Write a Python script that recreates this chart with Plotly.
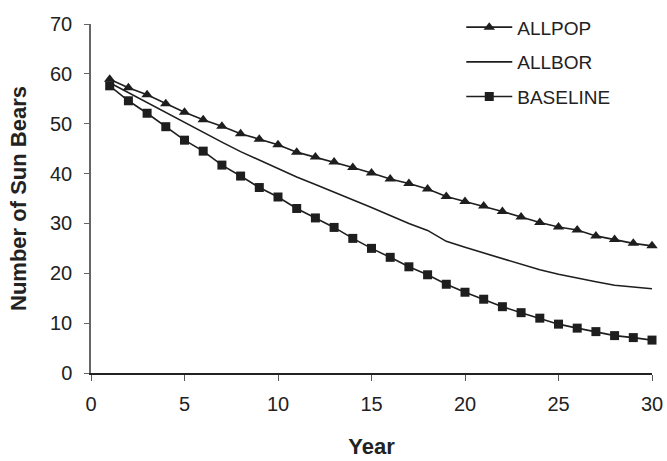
import plotly.graph_objects as go

years = list(range(1, 31))
allpop = [58.9, 57.2, 55.8, 54.0, 52.3, 50.8, 49.5, 48.0, 46.9, 45.8,
          44.3, 43.3, 42.3, 41.2, 40.1, 38.9, 38.0, 36.9, 35.4, 34.4,
          33.5, 32.4, 31.3, 30.2, 29.3, 28.7, 27.5, 26.8, 26.0, 25.5]
allbor = [58.2, 56.2, 54.2, 52.2, 50.2, 48.2, 46.3, 44.4, 42.7, 40.9,
          39.3, 37.8, 36.3, 34.8, 33.2, 31.6, 30.0, 28.6, 26.4, 25.2,
          24.1, 23.0, 21.8, 20.7, 19.8, 19.0, 18.3, 17.6, 17.2, 16.9]
baseline = [57.6, 54.6, 52.1, 49.4, 46.7, 44.5, 41.7, 39.5, 37.2, 35.3,
            33.0, 31.1, 29.2, 27.0, 25.0, 23.2, 21.3, 19.7, 17.8, 16.2,
            14.8, 13.3, 12.1, 11.0, 9.8, 9.0, 8.3, 7.5, 7.1, 6.6]

xticks = [0, 5, 10, 15, 20, 25, 30]
yticks = [0, 10, 20, 30, 40, 50, 60, 70]

ink = "#1e1e1e"
fig = go.Figure()
fig.add_trace(go.Scatter(x=years, y=allpop, name="ALLPOP", mode="lines+markers",
                         line=dict(color=ink, width=1.6),
                         marker=dict(symbol="triangle-up", size=10, color=ink),
                         legendgroup="a", cliponaxis=False))
fig.add_trace(go.Scatter(x=years, y=allbor, name="ALLBOR", mode="lines",
                         line=dict(color=ink, width=1.6), legendgroup="b",
                         cliponaxis=False))
fig.add_trace(go.Scatter(x=years, y=baseline, name="BASELINE", mode="lines+markers",
                         line=dict(color=ink, width=1.6),
                         marker=dict(symbol="square", size=9, color=ink),
                         legendgroup="c", cliponaxis=False))

fig.update_layout(
    width=667, height=461,
    margin=dict(l=91, r=15, t=24, b=88, autoexpand=False),
    paper_bgcolor="white", plot_bgcolor="white",
    font=dict(family="Liberation Sans, Arial, sans-serif", color="#222", size=20),
    showlegend=True,
    legend=dict(x=0.660, y=1.045, xanchor="left", yanchor="top",
                font=dict(size=19, color="#222"), tracegroupgap=7,
                itemwidth=46, bgcolor="rgba(0,0,0,0)"),
    xaxis=dict(range=[0, 30], tickvals=xticks, showgrid=False, zeroline=False,
               showline=True, linecolor="#222", linewidth=1.5,
               ticks="outside", ticklen=6, tickcolor="#555", tickwidth=1,
               ticklabelstandoff=6, automargin=False,
               title=dict(text="<b>Year</b>", font=dict(size=22), standoff=25)),
    yaxis=dict(range=[0, 70], tickvals=yticks, showgrid=False, zeroline=False,
               showline=True, linecolor="#666", linewidth=1.5,
               ticks="outside", ticklen=5, tickcolor="#666", tickwidth=1,
               ticklabelstandoff=8, automargin=False,
               title=dict(text="<b>Number of Sun Bears</b>", font=dict(size=22), standoff=17)),
)

fig.write_html("out.html", config={"displayModeBar": False},
               post_script="document.body.style.margin='0';document.body.style.padding='0';")
